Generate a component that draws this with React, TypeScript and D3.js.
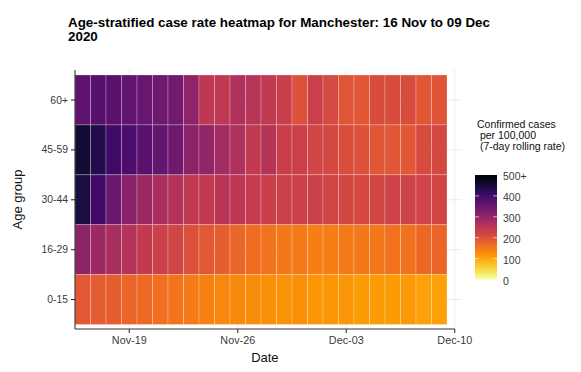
import React, { useEffect, useRef } from 'react';
import * as d3 from 'd3';

const ageGroups = ['60+', '45-59', '30-44', '16-29', '0-15'];

// 7-day rolling case rate per 100,000, one value per day from 16 Nov to 09 Dec
const rate60plus = [365, 375, 370, 360, 352, 345, 340, 305, 248, 245, 264, 255, 243, 232, 200, 230, 212, 195, 193, 208, 208, 208, 192, 196];
const rate45to59 = [455, 435, 400, 385, 370, 358, 345, 310, 302, 283, 268, 242, 258, 232, 230, 220, 214, 206, 200, 193, 192, 190, 210, 213];
const rate30to44 = [445, 400, 350, 312, 290, 270, 260, 245, 242, 252, 248, 238, 232, 230, 228, 228, 220, 218, 214, 218, 224, 223, 222, 220];
const rate16to29 = [310, 288, 275, 258, 242, 228, 220, 202, 190, 180, 170, 163, 155, 150, 147, 142, 142, 147, 150, 150, 157, 157, 168, 172];
const rate0to15 = [190, 185, 180, 172, 166, 160, 153, 145, 140, 132, 130, 127, 122, 120, 122, 117, 117, 116, 110, 110, 111, 113, 105, 105];

const ratesByGroup = [rate60plus, rate45to59, rate30to44, rate16to29, rate0to15];

const startDate = new Date(2020, 10, 16);
const dates = d3.timeDay.range(startDate, d3.timeDay.offset(startDate, rate60plus.length));
const xTickDates = [new Date(2020, 10, 19), new Date(2020, 10, 26), new Date(2020, 11, 3), new Date(2020, 11, 10)];
const legendTicks = [0, 100, 200, 300, 400, 500];

const FONT = '"Liberation Sans", Arial, sans-serif';

const App: React.FC = () => {
    const svgRef = useRef<SVGSVGElement | null>(null);

    useEffect(() => {
        const svg = d3.select(svgRef.current);
        svg.selectAll('*').remove();

        const panel = { left: 75, right: 462, top: 70, bottom: 329 };

        const x = d3
            .scaleTime()
            .domain([d3.timeHour.offset(startDate, -12), new Date(2020, 11, 10)])
            .range([75, 454.75]);
        const y = d3.scaleBand<string>().domain(ageGroups).range([75, 324.5]);
        const color = (v: number) => d3.interpolateInferno(1 - Math.min(v, 500) / 500);

        const cells = ageGroups.flatMap((g, gi) =>
            dates.map((d, di) => ({ group: g, date: d, value: ratesByGroup[gi][di] }))
        );

        // gridlines
        const grid = svg.append('g');
        grid.selectAll('line.h')
            .data(ageGroups)
            .join('line')
            .attr('x1', panel.left)
            .attr('x2', panel.right)
            .attr('y1', d => y(d)! + y.bandwidth() / 2)
            .attr('y2', d => y(d)! + y.bandwidth() / 2)
            .attr('stroke', '#ebebeb')
            .attr('stroke-width', 1);
        grid.selectAll('line.v')
            .data(xTickDates)
            .join('line')
            .attr('x1', d => x(d))
            .attr('x2', d => x(d))
            .attr('y1', panel.top)
            .attr('y2', panel.bottom)
            .attr('stroke', '#ebebeb')
            .attr('stroke-width', 1);

        // tiles
        svg.append('g')
            .selectAll('rect')
            .data(cells)
            .join('rect')
            .attr('x', d => x(d3.timeHour.offset(d.date, -12)))
            .attr('y', d => y(d.group)!)
            .attr('width', d => x(d3.timeHour.offset(d.date, 12)) - x(d3.timeHour.offset(d.date, -12)))
            .attr('height', y.bandwidth())
            .attr('fill', d => color(d.value))
            .attr('stroke', '#ffffff')
            .attr('stroke-opacity', 0.3)
            .attr('stroke-width', 0.8);

        // x axis
        const xAxis = svg.append('g');
        xAxis.append('line')
            .attr('x1', panel.left)
            .attr('x2', x(new Date(2020, 11, 10)))
            .attr('y1', panel.bottom)
            .attr('y2', panel.bottom)
            .attr('stroke', '#333')
            .attr('stroke-width', 1.1);
        xAxis.selectAll('line.tick')
            .data(xTickDates)
            .join('line')
            .attr('x1', d => x(d))
            .attr('x2', d => x(d))
            .attr('y1', panel.bottom)
            .attr('y2', panel.bottom + 4)
            .attr('stroke', '#333')
            .attr('stroke-width', 1.1);
        xAxis.selectAll('text')
            .data(xTickDates)
            .join('text')
            .attr('x', d => x(d))
            .attr('y', panel.bottom + 15)
            .attr('text-anchor', 'middle')
            .attr('font-size', 10.8)
            .attr('fill', '#3a3a3a')
            .text(d => d3.timeFormat('%b-%d')(d));

        // y axis
        const yAxis = svg.append('g');
        yAxis.append('line')
            .attr('x1', panel.left)
            .attr('x2', panel.left)
            .attr('y1', panel.top)
            .attr('y2', panel.bottom)
            .attr('stroke', '#333')
            .attr('stroke-width', 1.1);
        yAxis.selectAll('line.tick')
            .data(ageGroups)
            .join('line')
            .attr('x1', panel.left - 4)
            .attr('x2', panel.left)
            .attr('y1', d => y(d)! + y.bandwidth() / 2)
            .attr('y2', d => y(d)! + y.bandwidth() / 2)
            .attr('stroke', '#333')
            .attr('stroke-width', 1.1);
        yAxis.selectAll('text')
            .data(ageGroups)
            .join('text')
            .attr('x', panel.left - 7)
            .attr('y', d => y(d)! + y.bandwidth() / 2)
            .attr('dy', '0.35em')
            .attr('text-anchor', 'end')
            .attr('font-size', 10.4)
            .attr('fill', '#3a3a3a')
            .text(d => d);

        // axis titles
        svg.append('text')
            .attr('x', (panel.left + x(new Date(2020, 11, 10))) / 2)
            .attr('y', 362)
            .attr('text-anchor', 'middle')
            .attr('font-size', 13)
            .attr('fill', '#111')
            .text('Date');
        svg.append('text')
            .attr('transform', `translate(22,${(panel.top + panel.bottom) / 2}) rotate(-90)`)
            .attr('text-anchor', 'middle')
            .attr('font-size', 13)
            .attr('fill', '#111')
            .text('Age group');

        // title, two lines
        svg.append('text')
            .attr('x', 68)
            .attr('y', 27)
            .attr('font-size', 13.4)
            .attr('font-weight', 'bold')
            .attr('fill', '#000')
            .text('Age-stratified case rate heatmap for Manchester: 16 Nov to 09 Dec');
        svg.append('text')
            .attr('x', 68)
            .attr('y', 40.5)
            .attr('font-size', 13.4)
            .attr('font-weight', 'bold')
            .attr('fill', '#000')
            .text('2020');

        // legend
        const legend = svg.append('g');
        const legendTitle = ['Confirmed cases', ' per 100,000', ' (7-day rolling rate)'];
        legend.selectAll('text.title')
            .data(legendTitle)
            .join('text')
            .attr('x', 477)
            .attr('y', (_, i) => 128 + i * 11)
            .attr('font-size', 10.5)
            .attr('fill', '#111')
            .style('white-space', 'pre')
            .text(d => d);

        const legScale = d3.scaleLinear().domain([0, 500]).range([279.5, 175]);
        const grad = svg.append('defs')
            .append('linearGradient')
            .attr('id', 'legend-grad')
            .attr('x1', 0).attr('x2', 0).attr('y1', 1).attr('y2', 0);
        grad.selectAll('stop')
            .data(d3.range(0, 1.0001, 0.05))
            .join('stop')
            .attr('offset', d => d)
            .attr('stop-color', d => color(d * 500));
        legend.append('rect')
            .attr('x', 475)
            .attr('y', legScale(500))
            .attr('width', 22)
            .attr('height', legScale(0) - legScale(500))
            .attr('fill', 'url(#legend-grad)');
        legend.selectAll('line.tl')
            .data(legendTicks.filter(v => v > 0 && v < 500))
            .join('line')
            .attr('x1', 475).attr('x2', 479)
            .attr('y1', d => legScale(d)).attr('y2', d => legScale(d))
            .attr('stroke', '#fff').attr('stroke-opacity', 0.6);
        legend.selectAll('line.tr')
            .data(legendTicks.filter(v => v > 0 && v < 500))
            .join('line')
            .attr('x1', 493).attr('x2', 497)
            .attr('y1', d => legScale(d)).attr('y2', d => legScale(d))
            .attr('stroke', '#fff').attr('stroke-opacity', 0.6);
        legend.selectAll('text.lab')
            .data(legendTicks)
            .join('text')
            .attr('x', 503)
            .attr('y', d => legScale(d) + 1.5)
            .attr('dy', '0.35em')
            .attr('font-size', 10.5)
            .attr('fill', '#3a3a3a')
            .text(d => (d === 500 ? '500+' : String(d)));
    }, []);

    return (
        <svg
            ref={svgRef}
            width={581}
            height={372}
            style={{ position: 'absolute', left: 0, top: 0, background: '#fff', fontFamily: FONT }}
        />
    );
};

export default App;
